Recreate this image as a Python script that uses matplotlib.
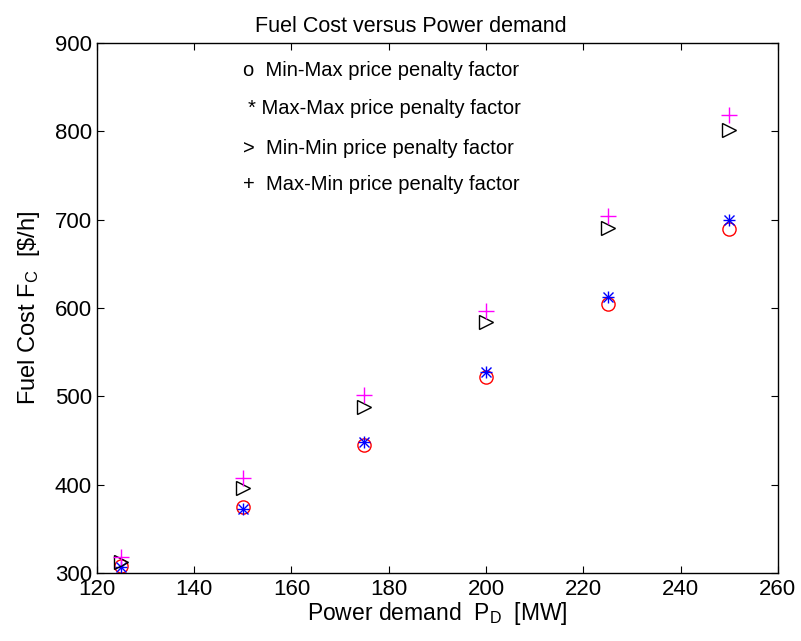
import matplotlib
matplotlib.use("Agg")
import matplotlib.pyplot as plt

plt.rcParams['font.family'] = ['Liberation Sans', 'DejaVu Sans']

demand = [125, 150, 175, 200, 225, 250]
min_max = [308, 375, 445, 522, 604, 689]
max_max = [307, 373, 448, 528, 613, 700]
min_min = [312, 396, 488, 584, 690, 801]
max_min = [318, 408, 502, 597, 704, 818]

notes = ['o  Min-Max price penalty factor',
         '* Max-Max price penalty factor',
         '>  Min-Min price penalty factor',
         '+  Max-Min price penalty factor']
note_x = [150, 151, 150, 150]
note_y = [869, 826, 780, 740]

fig = plt.figure(figsize=(8.01, 6.41), dpi=100)
ax = fig.add_axes([0.121, 0.106, 0.850, 0.827])

ax.plot(demand, min_max, 'o', mfc='none', mec='red', ms=9.5, mew=1.0)
# matlab style asterisk: plus and cross on top of each other
ax.plot(demand, max_max, '+', color='blue', ms=9, mew=1.0)
ax.plot(demand, max_max, 'x', color='blue', ms=6.5, mew=1.0)
ax.plot(demand, min_min, '>', mfc='none', mec='black', ms=10, mew=1.0)
ax.plot(demand, max_min, '+', color='magenta', ms=11, mew=1.0)

for t, x, y in zip(notes, note_x, note_y):
    ax.text(x, y, t, fontsize=14.5, va='center', ha='left')

ax.set_xlim(120, 260)
ax.set_ylim(300, 900)
ax.set_xticks(range(120, 261, 20))
ax.set_yticks(range(300, 901, 100))
ax.tick_params(direction='in', top=True, right=True, labelsize=16, length=5)
ax.tick_params(axis='x', pad=4)
for s in ax.spines.values():
    s.set_linewidth(1.0)

ax.set_title('Fuel Cost versus Power demand', fontsize=15.5, pad=8, x=0.461)
ax.set_xlabel(r'Power demand  $\mathregular{P_D}$  [MW]', fontsize=16.5, labelpad=0)
ax.set_ylabel(r'Fuel Cost $\mathregular{F_C}$  [\$/h]', fontsize=17, labelpad=9)

fig.savefig('out.png', dpi=100)
